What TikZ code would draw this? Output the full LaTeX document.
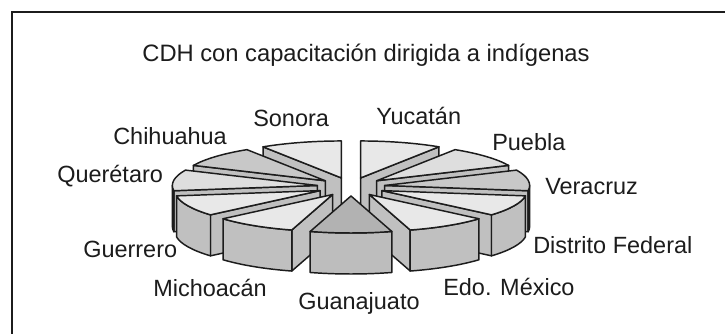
\documentclass[tikz,border=0pt]{standalone}
\usepackage{fontspec}
\setmainfont{Liberation Sans}
\usetikzlibrary{calc}
\def\pcx{351}\def\pcy{147.2}\def\prx{145}\def\pry{37}\def\pex{34}\def\pey{9.2}\def\phh{41}
\definecolor{toplight}{HTML}{E8E8E8}
\definecolor{topmid}{HTML}{DEDEDE}
\definecolor{topdark}{HTML}{C8C8C8}
\definecolor{topguan}{HTML}{B2B2B2}
\definecolor{sidegrey}{HTML}{C0C0C0}
\definecolor{sideguan}{HTML}{BDBDBD}
\definecolor{inkcol}{HTML}{1C1C1C}
\tikzset{
  facestyle/.style={draw=inkcol, line width=1.1pt, line join=round},
  lbl/.style={font=\fontsize{17.6}{20}\selectfont, text=inkcol, inner sep=0pt, anchor=base west},
  ttl/.style={font=\fontsize{17.8}{20}\selectfont, text=inkcol, inner sep=0pt, anchor=base},
  framestyle/.style={draw=inkcol, line width=1.5pt}
}
\newcommand\drawpieslice[4]{%
  \pgfmathsetmacro\slM{(#1+#2)/2}%
  \pgfmathsetmacro\slOx{\pcx+\pex*cos(\slM)}%
  \pgfmathsetmacro\slOy{\pcy+\pey*sin(\slM)}%
  \coordinate (O) at (\slOx,\slOy);
  \coordinate (Ob) at ($(O)+(0,-\phh)$);
  \coordinate (A) at ($(O)+({\prx*cos(#1)},{\pry*sin(#1)})$);
  \coordinate (B) at ($(O)+({\prx*cos(#2)},{\pry*sin(#2)})$);
  \coordinate (Ab) at ($(A)+(0,-\phh)$);
  \coordinate (Bb) at ($(B)+(0,-\phh)$);
  \pgfmathparse{cos(#1)}%
  \ifdim\pgfmathresult pt>0.001pt
    \path[facestyle, fill=#4] (O) -- (A) -- (Ab) -- (Ob) -- cycle;
  \fi
  \pgfmathparse{cos(#2)}%
  \ifdim\pgfmathresult pt<-0.001pt
    \path[facestyle, fill=#4] (O) -- (B) -- (Bb) -- (Ob) -- cycle;
  \fi
  \pgfmathsetmacro\slS{max(#1,180)}%
  \pgfmathsetmacro\slT{min(#2,360)}%
  \pgfmathsetmacro\slD{\slT-\slS}%
  \ifdim\slD pt>0.01pt
    \path[facestyle, fill=#4] ($(O)+({\prx*cos(\slS)},{\pry*sin(\slS)})$)
      arc[start angle=\slS, end angle=\slT, x radius=\prx, y radius=\pry]
      -- ++(0,-\phh)
      arc[start angle=\slT, end angle=\slS, x radius=\prx, y radius=\pry] -- cycle;
  \fi
  \path[facestyle, fill=#3] (O) -- (A)
    arc[start angle=#1, end angle=#2, x radius=\prx, y radius=\pry] -- cycle;
}
\begin{document}
\begin{tikzpicture}[x=0.75pt,y=0.75pt]
  \useasboundingbox (0,0) rectangle (725,334);
  \clip (0,0) rectangle (725,334);
  \fill[white] (0,0) rectangle (725,334);
  \draw[framestyle] (12,321.5) rectangle (745,-15);

  \node[ttl] (title) at (366,272) {CDH con capacitación dirigida a indígenas};

  % slices, back to front
  \drawpieslice{90}{122.727}{toplight}{sidegrey}        % Sonora
  \drawpieslice{57.273}{90}{toplight}{sidegrey}         % Yucatan
  \drawpieslice{122.727}{155.455}{topdark}{sidegrey}    % Chihuahua
  \drawpieslice{24.545}{57.273}{topmid}{sidegrey}       % Puebla
  \drawpieslice{155.455}{188.182}{topmid}{sidegrey}     % Queretaro
  \drawpieslice{351.818}{384.545}{topdark}{sidegrey}    % Veracruz
  \drawpieslice{188.182}{220.909}{toplight}{sidegrey}   % Guerrero
  \drawpieslice{319.091}{351.818}{toplight}{sidegrey}   % Distrito Federal
  \drawpieslice{220.909}{253.636}{toplight}{sidegrey}   % Michoacan
  \drawpieslice{286.364}{319.091}{toplight}{sidegrey}   % Edo. Mexico
  \drawpieslice{253.636}{286.364}{topguan}{sideguan}    % Guanajuato

  \node[lbl] (lsonora) at (253,207) {Sonora};
  \node[lbl] (lyucatan) at (376,209) {Yucatán};
  \node[lbl] (lchihuahua) at (113,189) {Chihuahua};
  \node[lbl] (lpuebla) at (492,183.3) {Puebla};
  \node[lbl] (lqueretaro) at (57,151) {Querétaro};
  \node[lbl] (lveracruz) at (545,139) {Veracruz};
  \node[lbl] (lguerrero) at (83,76) {Guerrero};
  \node[lbl] (ldf) at (533,80) {Distrito Federal};
  \node[lbl] (lmichoacan) at (153,37.3) {Michoacán};
  \node[lbl] (ledomex) at (443,38) {Edo. México};
  \node[lbl] (lguanajuato) at (298,24) {Guanajuato};
\end{tikzpicture}
\end{document}
